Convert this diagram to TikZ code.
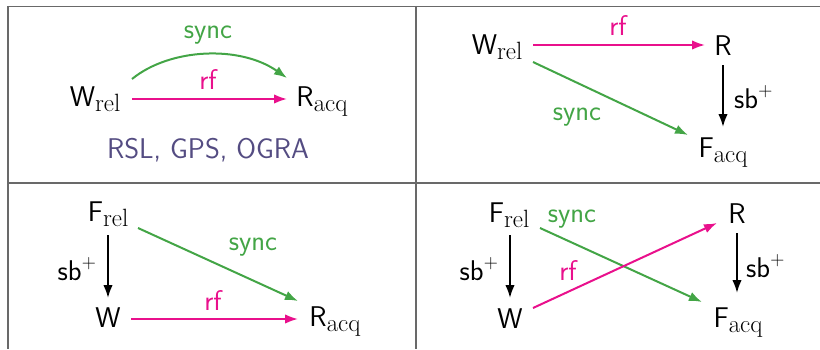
\documentclass[tikz,border=0pt]{standalone}
\usepackage{fontspec}
\usetikzlibrary{arrows.meta}
\definecolor{syncg}{RGB}{67,165,70}
\definecolor{rfm}{RGB}{233,16,140}
\definecolor{archc}{RGB}{84,76,130}
\definecolor{gridc}{RGB}{105,105,105}
\newcommand{\lbsub}[1]{\raisebox{-5.5pt}{\fontsize{25}{25}\selectfont\rmfamily #1}}
\newcommand{\sbplus}{sb\raisebox{11.5pt}{\fontsize{19.5}{19.5}\selectfont\rmfamily +}}
\begin{document}
\begin{tikzpicture}[x=1pt,y=-1pt,
  every node/.style={inner sep=0pt, anchor=base, font=\fontsize{28.5}{34}\selectfont\sffamily},
  gridline/.style={draw=gridc, line width=1.4pt},
  arr/.style={line width=2pt, -{Latex[length=13pt,width=9.5pt]}},
  rfarr/.style={arr, draw=rfm},
  syncarr/.style={arr, draw=syncg},
  sbarr/.style={arr, draw=black},
  rflbl/.style={text=rfm},
  synclbl/.style={text=syncg}]
\useasboundingbox (0,0) rectangle (820,349);
% table rules
\draw[gridline] (7.3,6.5) -- (820,6.5);
\draw[gridline] (7.3,183) -- (820,183);
\draw[gridline] (8,5.8) -- (8,349);
\draw[gridline] (416,5.8) -- (416,349);

% ---- cell 1 ----
\node (W1) at (95,106) {W\lbsub{rel}};
\node (R1) at (322,106) {R\lbsub{acq}};
\node[rflbl] (rf1) at (208,89) {rf};
\node[synclbl] (sync1) at (208,38) {sync};
\node[text=archc] (arch) at (208,158) {RSL, GPS, OGRA};
\draw[rfarr] ([shift={(37,-7)}]W1.base) -- ([shift={(-35,-7)}]R1.base);
\draw[syncarr] ([shift={(37,-27)}]W1.base) .. controls ([shift={(75,-58)}]W1.base) and ([shift={(-82,-61)}]R1.base) .. ([shift={(-35,-28)}]R1.base);

% ---- cell 2 ----
\node (W2) at (497,54) {W\lbsub{rel}};
\node (R2) at (723,55) {R};
\node (F2) at (723,157) {F\lbsub{acq}};
\node[rflbl] (rf2) at (618,35) {rf};
\node[synclbl] (sync2) at (577,120) {sync};
\node[anchor=base west] (sb2) at (734,108) {\sbplus};
\draw[rfarr] ([shift={(36,-9)}]W2.base) -- ([shift={(-18,-10)}]R2.base);
\draw[sbarr] ([shift={(0,10)}]R2.base) -- ([shift={(0,-30)}]F2.base);
\draw[syncarr] ([shift={(36,8)}]W2.base) -- ([shift={(-35,-22)}]F2.base);

% ---- cell 3 ----
\node (F3) at (108,221) {F\lbsub{rel}};
\node (W3) at (108,327) {W};
\node (R3) at (335,326) {R\lbsub{acq}};
\node[anchor=base east] (sb3) at (96,280) {\sbplus};
\node[rflbl] (rf3) at (213,310) {rf};
\node[synclbl] (sync3) at (253,250) {sync};
\draw[sbarr] ([shift={(0,14)}]F3.base) -- ([shift={(0,-29)}]W3.base);
\draw[rfarr] ([shift={(23,-8)}]W3.base) -- ([shift={(-37,-7)}]R3.base);
\draw[syncarr] ([shift={(30,7)}]F3.base) -- ([shift={(-37,-25)}]R3.base);

% ---- cell 4 ----
\node (F4) at (509,222) {F\lbsub{rel}};
\node (W4) at (510,328) {W};
\node (R4) at (737,223) {R};
\node (A4) at (738,327) {F\lbsub{acq}};
\node[anchor=base east] (sb4a) at (498,280) {\sbplus};
\node[anchor=base west] (sb4b) at (746,277) {\sbplus};
\node[rflbl] (rf4) at (568,280) {rf};
\node[synclbl] (sync4) at (572,222) {sync};
\draw[sbarr] ([shift={(1,13)}]F4.base) -- ([shift={(0,-30)}]W4.base);
\draw[sbarr] ([shift={(0,10)}]R4.base) -- ([shift={(-1,-34)}]A4.base);
\draw[syncarr] ([shift={(31,6)}]F4.base) -- ([shift={(-36,-25)}]A4.base);
\draw[rfarr] ([shift={(23,-20)}]W4.base) -- ([shift={(-20,0)}]R4.base);
\end{tikzpicture}
\end{document}
